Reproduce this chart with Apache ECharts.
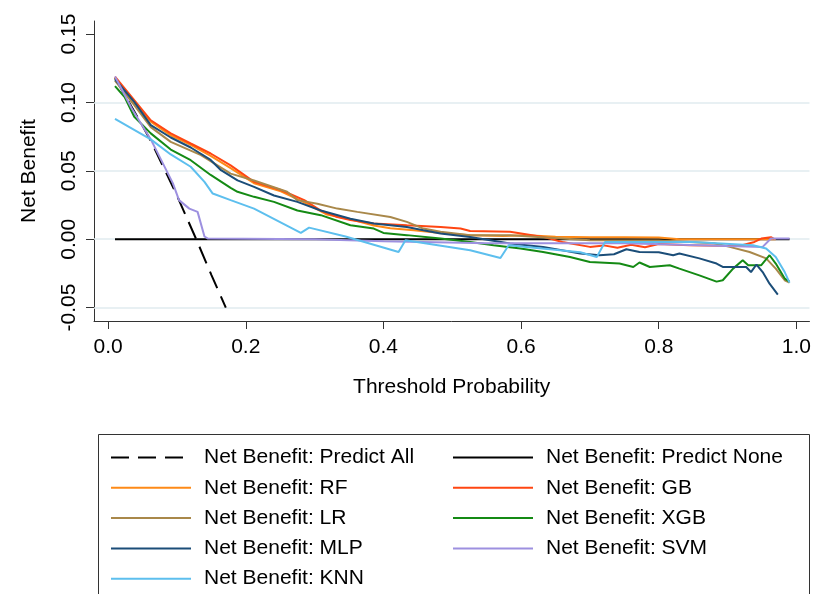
<!DOCTYPE html>
<html>
<head>
<meta charset="utf-8">
<script src="https://cdn.jsdelivr.net/npm/echarts@6/dist/echarts.min.js"></script>
<style>
  html, body { margin: 0; padding: 0; background: #fff; }
  #chart { width: 814px; height: 594px; }
</style>
</head>
<body>
<div id="chart"></div>
<script>
// == Data (threshold, net benefit) =========================================

const xTicks = [0.0, 0.2, 0.4, 0.6, 0.8, 1.0]
const yTicks = [-0.05, 0.0, 0.05, 0.10, 0.15]
const gridValues = [-0.05, 0.0, 0.05, 0.10]

const predictAll = [[0.01, 0.118], [0.05, 0.083], [0.062, 0.072], [0.10, 0.032], [0.128, 0.0], [0.15, -0.026], [0.171, -0.05]]
const predictNone = [[0.01, 0.0], [0.99, 0.0]]

const rf = [[0.01, 0.118], [0.038, 0.100], [0.062, 0.086], [0.091, 0.076], [0.12, 0.069], [0.149, 0.061],
  [0.178, 0.052], [0.212, 0.041], [0.251, 0.035], [0.285, 0.027], [0.318, 0.018], [0.352, 0.0146],
  [0.386, 0.010], [0.41, 0.008], [0.444, 0.0066], [0.483, 0.0045], [0.526, 0.003], [0.574, 0.0024],
  [0.608, 0.003], [0.65, 0.0018], [0.70, 0.0015], [0.75, 0.0015], [0.80, 0.0012], [0.83, 0.0], [0.97, 0.0]]

const gb = [[0.01, 0.119], [0.038, 0.1017], [0.062, 0.087], [0.091, 0.0774], [0.12, 0.070], [0.149, 0.0627],
  [0.178, 0.054], [0.212, 0.042], [0.251, 0.036], [0.285, 0.0286], [0.309, 0.021], [0.333, 0.0163],
  [0.352, 0.014], [0.386, 0.0115], [0.434, 0.0102], [0.483, 0.009], [0.512, 0.0078], [0.526, 0.006],
  [0.584, 0.0054], [0.632, 0.0017], [0.66, -0.002], [0.70, -0.0056], [0.72, -0.0045], [0.74, -0.0062],
  [0.76, -0.004], [0.78, -0.0058], [0.80, -0.0035], [0.845, -0.0044], [0.917, -0.005], [0.939, -0.002],
  [0.949, 0.0005], [0.963, 0.0015], [0.968, 0.0]]

const lr = [[0.01, 0.116], [0.038, 0.098], [0.062, 0.082], [0.091, 0.0712], [0.135, 0.0615], [0.178, 0.048],
  [0.212, 0.043], [0.26, 0.0347], [0.275, 0.0286], [0.304, 0.026], [0.333, 0.0224], [0.362, 0.020],
  [0.41, 0.0163], [0.434, 0.0127], [0.458, 0.0078], [0.483, 0.0054], [0.526, 0.003], [0.584, 0.003],
  [0.70, -0.0007], [0.80, -0.001], [0.845, -0.002], [0.88, -0.003], [0.903, -0.0056], [0.932, -0.0093],
  [0.956, -0.014], [0.97, -0.0215], [0.983, -0.030], [0.99, -0.0317]]

const xgb = [[0.01, 0.112], [0.024, 0.104], [0.038, 0.0896], [0.062, 0.0774], [0.091, 0.0656], [0.12, 0.0578],
  [0.149, 0.047], [0.178, 0.0376], [0.188, 0.0347], [0.212, 0.031], [0.241, 0.0273], [0.275, 0.021],
  [0.309, 0.0176], [0.352, 0.0102], [0.386, 0.0078], [0.40, 0.0046], [0.434, 0.003], [0.483, 0.0005],
  [0.526, -0.002], [0.56, -0.0044], [0.599, -0.0068], [0.632, -0.0093], [0.671, -0.013], [0.70, -0.0166],
  [0.743, -0.0178], [0.763, -0.0203], [0.772, -0.017], [0.787, -0.0203], [0.816, -0.019], [0.83, -0.0215],
  [0.859, -0.0264], [0.884, -0.031], [0.893, -0.030], [0.908, -0.0215], [0.922, -0.0154], [0.93, -0.019],
  [0.949, -0.019], [0.961, -0.0117], [0.97, -0.0178], [0.983, -0.0288], [0.99, -0.031]]

const mlp = [[0.01, 0.117], [0.038, 0.1005], [0.062, 0.0834], [0.091, 0.0744], [0.12, 0.0671], [0.149, 0.058],
  [0.164, 0.0505], [0.188, 0.043], [0.212, 0.0383], [0.241, 0.032], [0.275, 0.0273], [0.309, 0.021],
  [0.352, 0.015], [0.386, 0.0115], [0.434, 0.009], [0.458, 0.0066], [0.483, 0.0042], [0.526, 0.0017],
  [0.584, -0.0032], [0.632, -0.0056], [0.686, -0.0105], [0.714, -0.0117], [0.735, -0.011], [0.753, -0.0073],
  [0.772, -0.0093], [0.80, -0.0095], [0.821, -0.0117], [0.83, -0.0105], [0.859, -0.014], [0.884, -0.0178],
  [0.893, -0.0203], [0.927, -0.0203], [0.934, -0.024], [0.942, -0.0185], [0.951, -0.024], [0.961, -0.0325],
  [0.973, -0.0405]]

const svm = [[0.01, 0.119], [0.035, 0.095], [0.062, 0.073], [0.077, 0.058], [0.094, 0.041], [0.103, 0.0286],
  [0.118, 0.0224], [0.13, 0.020], [0.14, 0.002], [0.145, 0.0005], [0.30, 0.0], [0.40, -0.0015],
  [0.55, -0.003], [0.75, -0.003], [0.90, -0.005], [0.951, -0.0056], [0.963, 0.0005], [0.99, 0.0005]]

const knn = [[0.01, 0.088], [0.062, 0.073], [0.091, 0.062], [0.12, 0.053], [0.14, 0.042], [0.152, 0.0334],
  [0.178, 0.0286], [0.212, 0.0224], [0.28, 0.0046], [0.292, 0.0085], [0.345, 0.002], [0.422, -0.0093],
  [0.432, -0.0007], [0.526, -0.008], [0.57, -0.0137], [0.582, -0.0044], [0.686, -0.0095], [0.71, -0.013],
  [0.722, -0.002], [0.85, -0.002], [0.937, -0.0044], [0.956, -0.0068], [0.97, -0.013], [0.983, -0.024],
  [0.99, -0.0317]]

const leftNames = ['Net Benefit: Predict All', 'Net Benefit: RF', 'Net Benefit: LR', 'Net Benefit: MLP', 'Net Benefit: KNN']
const rightNames = ['Net Benefit: Predict None', 'Net Benefit: GB', 'Net Benefit: XGB', 'Net Benefit: SVM']

// == Chart ==================================================================

const FONT = '"Liberation Sans", Arial, sans-serif'
const AXIS_COLOR = '#333'

function curve (name, data, color, dash) {
  return {
    name,
    type: 'line',
    data,
    symbol: 'none',
    z: 3,
    lineStyle: { color, width: 2, type: dash || 'solid' },
    itemStyle: { color }
  }
}

function legendCol (names, left) {
  return {
    data: names,
    orient: 'vertical',
    left,
    top: 442,
    height: 300,
    itemWidth: 80,
    itemHeight: 14,
    itemGap: 9.3,
    selectedMode: false,
    itemStyle: { opacity: 0 },
    textStyle: { fontFamily: FONT, fontSize: 21, lineHeight: 21, color: '#000', padding: [0, 0, 0, 8] }
  }
}

const chart = echarts.init(document.getElementById('chart'))

chart.setOption({
  animation: false,
  backgroundColor: '#fff',
  grid: { left: 94, right: 4, top: 21, bottom: 273 },
  xAxis: {
    type: 'value',
    min: -0.0205,
    max: 1.019,
    name: 'Threshold Probability',
    nameLocation: 'middle',
    nameGap: 56,
    nameTextStyle: { fontFamily: FONT, fontSize: 21, color: '#000' },
    axisLine: { onZero: false, lineStyle: { color: AXIS_COLOR, width: 1 } },
    axisTick: { show: true, length: 8, customValues: xTicks, lineStyle: { color: AXIS_COLOR } },
    axisLabel: {
      customValues: xTicks,
      formatter: v => v.toFixed(1),
      fontFamily: FONT, fontSize: 21, color: '#000', margin: 16
    },
    splitLine: { show: false }
  },
  yAxis: {
    type: 'value',
    min: -0.0598,
    max: 0.1596,
    name: 'Net Benefit',
    nameLocation: 'middle',
    nameRotate: 90,
    nameGap: 54,
    nameTextStyle: { fontFamily: FONT, fontSize: 21, color: '#000' },
    axisLine: { show: true, onZero: false, lineStyle: { color: AXIS_COLOR, width: 1 } },
    axisTick: { show: true, length: 8, customValues: yTicks, lineStyle: { color: AXIS_COLOR } },
    axisLabel: {
      customValues: yTicks,
      rotate: 90,
      formatter: v => v.toFixed(2),
      fontFamily: FONT, fontSize: 21, color: '#000', margin: 14
    },
    splitLine: { show: false }
  },
  legend: [legendCol(leftNames, 105), legendCol(rightNames, 447)],
  graphic: [{
    type: 'rect',
    shape: { x: 98.5, y: 434.5, width: 711, height: 200 },
    style: { fill: 'none', stroke: '#333', lineWidth: 1 },
    silent: true
  }],
  series: [
    {
      name: 'grid',
      type: 'line',
      data: [],
      z: 1,
      markLine: {
        silent: true,
        z: 1,
        symbol: 'none',
        label: { show: false },
        lineStyle: { color: '#e1ebef', width: 1.5, type: 'solid' },
        data: gridValues.map(v => ({ yAxis: v }))
      }
    },
    curve('Net Benefit: Predict All', predictAll, '#000', [18, 9]),
    curve('Net Benefit: Predict None', predictNone, '#000'),
    curve('Net Benefit: RF', rf, '#fe8a17'),
    curve('Net Benefit: GB', gb, '#ff4612'),
    curve('Net Benefit: LR', lr, '#a9884a'),
    curve('Net Benefit: XGB', xgb, '#148a14'),
    curve('Net Benefit: MLP', mlp, '#1b4d78'),
    curve('Net Benefit: SVM', svm, '#9d90e0'),
    curve('Net Benefit: KNN', knn, '#5dbfee')
  ]
})
</script>
</body>
</html>
